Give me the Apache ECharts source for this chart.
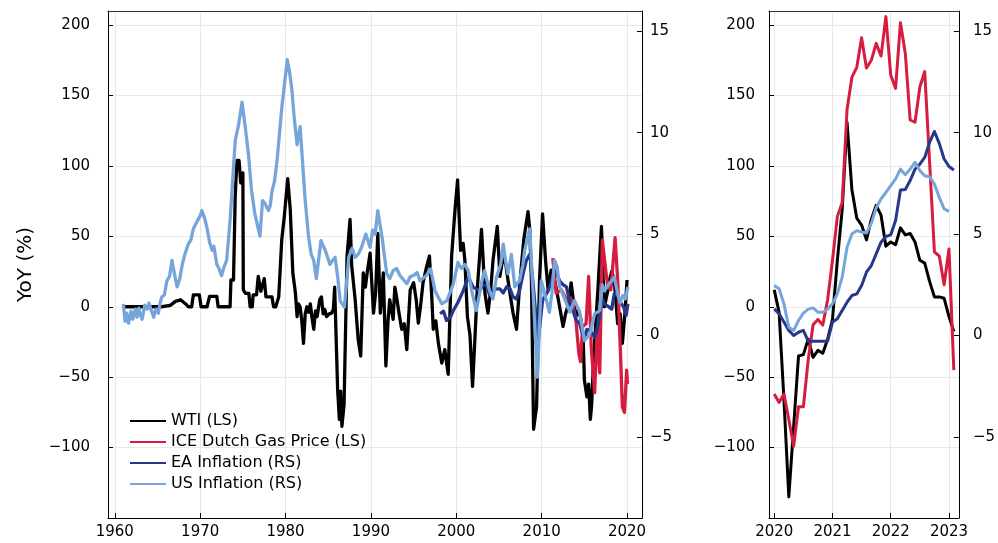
<!DOCTYPE html>
<html>
<head>
<meta charset="utf-8">
<script src="https://cdn.jsdelivr.net/npm/echarts@6/dist/echarts.min.js"></script>
<style>
html,body{margin:0;padding:0;background:#fff;}
#chart{width:998px;height:543px;}
</style>
</head>
<body>
<div id="chart"></div>
<script>
// ---------- DATA ----------
const seriesNames = ['WTI (LS)', 'ICE Dutch Gas Price (LS)', 'EA Inflation (RS)', 'US Inflation (RS)'];

// Left panel (long history), x = decimal year
const wtiYears = [1961.0,1965.5,1966.5,1967.1,1967.7,1968.3,1968.6,1969.0,1969.2,1969.9,1970.1,1970.8,1971.1,1971.95,1972.1,1973.5,1973.6,1973.9,1974.1,1974.3,1974.55,1974.75,1975.0,1975.05,1975.3,1975.7,1975.85,1976.1,1976.2,1976.6,1976.8,1977.1,1977.5,1977.7,1978.4,1978.6,1978.85,1979.2,1979.55,1979.85,1980.25,1980.55,1980.85,1981.15,1981.35,1981.5,1981.7,1981.9,1982.1,1982.3,1982.5,1982.7,1982.9,1983.1,1983.3,1983.5,1983.7,1984.0,1984.2,1984.4,1984.6,1984.8,1985.1,1985.4,1985.6,1985.75,1986.1,1986.3,1986.45,1986.6,1986.85,1987.2,1987.55,1987.75,1988.15,1988.5,1988.8,1989.1,1989.35,1989.6,1989.9,1990.3,1990.55,1990.8,1991.1,1991.45,1991.75,1992.0,1992.2,1992.6,1992.8,1993.0,1993.3,1993.6,1993.9,1994.2,1994.6,1995.0,1995.3,1995.55,1995.8,1996.1,1996.5,1996.85,1997.1,1997.3,1997.6,1997.9,1998.3,1998.65,1999.05,1999.45,1999.85,2000.15,2000.5,2000.8,2001.0,2001.3,2001.6,2001.9,2002.2,2002.45,2002.95,2003.35,2003.7,2004.0,2004.3,2004.8,2005.1,2005.5,2005.8,2006.05,2006.4,2006.65,2007.05,2007.4,2007.9,2008.4,2008.6,2008.8,2009.05,2009.2,2009.4,2009.75,2010.1,2010.45,2010.75,2011.1,2011.5,2011.8,2012.1,2012.5,2012.8,2013.05,2013.45,2013.7,2014.0,2014.3,2014.6,2014.85,2015.0,2015.3,2015.5,2015.7,2015.85,2016.05,2016.3,2016.6,2017.0,2017.2,2017.35,2017.7,2017.95,2018.2,2018.5,2018.9,2019.2,2019.45,2019.75,2020.0];
const wtiValues = [0,0,1,3.8,5,2,0,0,8.5,8.5,0,0,7.3,7.3,0,0,19,19,78,104,104,88,95,12,9.5,9.5,0,0,8.5,8.5,21.5,11,20,7,7,0,0,7,47.5,64,91,69,24,10,-7,2,0,-10,-26,-5,0,-4,2,-8,-16,-3,-7,5,7,-5,-2,-7,-5,-4.5,-2,14,-59,-80,-60,-85,-69.5,35.7,62,29,5,-23,-35,24,14,26,38,-4.5,10,52,-4.5,24,-42,-10,5,-9,14,7,-5,-16,-12,-30.5,12,17,5,-11.6,0,17,28,36,10,-16,-10,-26,-40,-30.5,-48,36,69,90,40,45,33,-7,-20,-56.5,-20,12,55,9.7,-4.5,10,33,57,21.5,36,30,19,5,-4.5,-16,14,47.5,67.6,55,19,-87,-80,-71,19,66,33,12,26,19,10,0,-14,-5,0,17,5,-7,-2,-9,-20,-52,-64,-55,-80,-70,-42,-15,14,57,20,0,10,19,25,19,-12,-5,-26,-4.5,19];

const iceYears = [2011.3,2011.7,2012.3,2012.9,2013.5,2014.0,2014.35,2014.55,2014.8,2015.2,2015.5,2015.8,2016.2,2016.5,2016.8,2017.1,2017.5,2017.75,2018.1,2018.6,2018.9,2019.2,2019.45,2019.7,2019.95,2020.05];
const iceValues = [34.5,9.7,12,5,5,-9,-33,-39,-14,-12,21.5,-28,-61,-16,-47,47.5,26,14,12,49,19,-28,-71,-75,-45,-55];

const eaYears = [1998.1,1998.5,1998.85,1999.3,1999.65,2000.2,2000.8,2001.4,2001.95,2002.3,2002.75,2003.1,2003.5,2003.9,2004.3,2004.7,2005.1,2005.5,2005.9,2006.3,2006.65,2007.0,2007.4,2007.8,2008.2,2008.6,2008.9,2009.2,2009.6,2010.1,2010.75,2011.1,2011.5,2011.8,2012.1,2012.5,2012.9,2013.3,2013.65,2014.0,2014.45,2015.0,2015.3,2015.6,2015.9,2016.2,2016.5,2016.8,2017.1,2017.35,2017.9,2018.2,2018.5,2018.8,2019.1,2019.6,2019.9,2020.1];
const eaValues = [1.07,1.2,0.74,0.9,1.23,1.64,2.2,2.87,2.4,2.3,2.2,2.5,2.46,2.0,2.2,2.3,2.3,2.1,2.4,2.3,1.9,1.8,2.2,3.0,3.7,4.0,3.0,1.56,-0.25,1.72,2.2,2.6,3.2,3.0,2.7,2.5,2.4,1.6,1.23,0.8,0.58,-0.25,0.3,0.25,0.1,-0.08,0.3,1.07,1.8,1.56,1.4,1.3,2.05,2.1,1.72,1.4,1.0,1.56];

const usYears = [1961.0,1961.2,1961.4,1961.6,1961.9,1962.1,1962.4,1962.6,1962.8,1963.0,1963.2,1963.5,1963.8,1964.0,1964.3,1964.55,1964.8,1965.1,1965.3,1965.5,1965.8,1966.1,1966.4,1966.7,1967.0,1967.3,1967.6,1967.9,1968.2,1968.6,1968.9,1969.2,1969.6,1970.0,1970.2,1970.5,1970.8,1971.1,1971.4,1971.6,1971.95,1972.2,1972.5,1972.8,1973.1,1973.5,1974.1,1974.5,1974.9,1975.3,1975.65,1976.0,1976.4,1977.0,1977.3,1977.6,1978.0,1978.2,1978.4,1978.7,1979.0,1979.55,1980.2,1980.5,1980.75,1981.0,1981.35,1981.7,1981.9,1982.3,1982.7,1983.0,1983.3,1983.6,1984.15,1984.65,1985.2,1985.5,1985.8,1986.1,1986.4,1986.9,1987.4,1987.8,1988.15,1988.5,1988.9,1989.4,1989.9,1990.2,1990.5,1990.8,1991.3,1991.85,1992.2,1992.6,1993.0,1993.4,1994.2,1994.6,1995.0,1995.4,1995.75,1996.5,1997.0,1997.5,1998.3,1998.9,1999.65,2000.2,2000.6,2001.0,2001.4,2001.8,2002.35,2002.95,2003.3,2003.9,2004.3,2004.7,2005.2,2005.5,2005.8,2006.05,2006.45,2006.85,2007.4,2007.8,2008.0,2008.6,2009.0,2009.5,2009.95,2010.45,2010.9,2011.2,2011.5,2011.8,2012.1,2012.7,2013.3,2013.85,2014.45,2015.0,2015.3,2015.6,2016.2,2016.8,2017.1,2017.35,2017.9,2018.5,2018.9,2019.2,2019.5,2019.8,2020.1];
const usValues = [1.56,0.7,1.1,0.6,1.2,0.8,1.3,0.9,1.35,1.0,0.8,1.5,1.3,1.6,1.2,0.9,1.3,1.1,1.6,1.9,2.0,2.7,2.9,3.7,3.0,2.4,2.8,3.5,4.0,4.5,4.7,5.26,5.6,5.9,6.16,5.8,5.3,4.6,4.2,4.4,3.5,3.3,2.95,3.4,3.7,5.66,9.6,10.4,11.5,10.2,8.95,7.2,6.0,4.9,6.65,6.5,6.16,6.4,7.1,7.6,8.6,11.2,13.6,12.9,12.07,10.8,9.4,10.3,9.1,6.65,4.84,4.0,3.7,2.8,4.68,4.2,3.5,3.7,3.86,2.9,1.7,1.4,3.86,4.3,3.86,4.0,4.35,5.0,4.35,5.2,5.0,6.16,4.84,3.04,2.8,3.2,3.3,2.96,2.55,2.9,2.96,3.1,2.7,2.96,3.28,2.2,1.56,1.72,2.55,3.6,3.3,3.5,3.2,2.2,1.23,2.6,3.2,2.2,1.8,2.87,3.5,4.5,3.6,3.04,4.0,2.4,2.7,3.5,4.2,5.26,2.05,-2.05,2.7,1.9,1.15,2.1,3.7,3.4,2.4,1.8,1.15,1.72,1.15,-0.25,-0.1,0,1.07,1.23,2.5,2.2,2.55,2.87,2.05,1.6,1.97,1.8,2.4];

// Right panel (monthly, Jan 2020 onwards)
const recentMonths = ['2020-01','2020-02','2020-03','2020-04','2020-05','2020-06','2020-07','2020-08','2020-09','2020-10','2020-11','2020-12','2021-01','2021-02','2021-03','2021-04','2021-05','2021-06','2021-07','2021-08','2021-09','2021-10','2021-11','2021-12','2022-01','2022-02','2022-03','2022-04','2022-05','2022-06','2022-07','2022-08','2022-09','2022-10','2022-11','2022-12','2023-01','2023-02'];
const wtiRecent = [12,-4,-66,-135,-85,-35,-34,-23,-36,-31,-33,-23,-9,33,69,131,83,63,58,47.5,62,72,65,43,46,44,56,51,52,46,33,31,18,7,7,6,-7,-17.5];
const iceRecent = [-62,-68,-62,-80,-99,-71,-71,-37.6,-12.8,-9,-13,5,33,64,74,140,163,170,191,169.5,175,187,178,206,164.5,155,201.6,180,132.6,131,156,167,103,39,36,15.6,41,-45];
const eaRecent = [1.31,1.07,0.66,0.25,0.0,0.16,0.25,-0.28,-0.28,-0.28,-0.28,-0.28,0.66,0.82,1.23,1.64,1.97,2.05,2.46,3.12,3.45,4.02,4.6,4.88,4.96,5.67,7.17,7.2,7.64,8.2,8.45,8.78,9.52,10.06,9.47,8.7,8.33,8.16];
const usRecent = [2.46,2.3,1.56,0.41,0.25,0.74,1.1,1.3,1.36,1.15,1.15,1.3,1.56,2.05,2.87,4.35,5.0,5.17,5.1,5.05,5.53,6.3,6.73,7.05,7.39,7.72,8.2,7.93,8.2,8.54,8.13,7.88,7.83,7.47,6.81,6.24,6.12];

// Tick labels
const leftYearTicks = [1960,1970,1980,1990,2000,2010,2020];
const rightYearTicks = [2020,2021,2022,2023];
const lsTicks = [-100,-50,0,50,100,150,200];
const rsTicks = [-5,0,5,10,15];

// ---------- BUILD ----------
const pairs = (xs, ys) => xs.map((x, i) => [x, ys[i]]);
const monthToYear = m => { const [y, mo] = m.split('-').map(Number); return y + (mo - 1) / 12; };
const monthly = ys => ys.map((v, i) => [monthToYear(recentMonths[i]), v]);

const colors = ['#000000', '#d61c3f', '#27388c', '#76a5da'];
const FONT = 'DejaVu Sans';
const minus = v => String(v).replace('-', '\u2212');

function xAxisDef(grid, min, max, ticks) {
  return {
    gridIndex: grid, type: 'value', min: min, max: max,
    axisLine: { onZero: false, lineStyle: { color: '#000', width: 1 } },
    axisTick: { inside: true, length: 5, customValues: ticks, lineStyle: { color: '#000' } },
    axisLabel: { customValues: ticks, formatter: v => String(v), fontSize: 15, color: '#000', fontFamily: FONT, margin: 7 },
    splitLine: { show: true, lineStyle: { color: '#e8e8e8', width: 1 } }
  };
}
function topAxisDef(grid, min, max) {
  return {
    gridIndex: grid, type: 'value', position: 'top', min: min, max: max,
    axisLine: { show: true, onZero: false, lineStyle: { color: '#333', width: 1 } },
    axisTick: { show: false }, axisLabel: { show: false }, splitLine: { show: false }
  };
}
function yAxisDef(grid, pos, min, max, ticks, split, margin, extra) {
  return Object.assign({
    gridIndex: grid, type: 'value', position: pos, min: min, max: max,
    axisLine: { show: true, onZero: false, lineStyle: { color: '#000', width: 1 } },
    axisTick: { show: true, inside: true, length: 5, customValues: ticks, lineStyle: { color: '#000' } },
    axisLabel: { customValues: ticks, formatter: minus, fontSize: 15, color: '#000', fontFamily: FONT, margin: margin },
    splitLine: { show: split, lineStyle: { color: '#e8e8e8', width: 1 } }
  }, extra || {});
}

const lineSeries = (name, data, xi, yi, ci, z, w) => ({
  name: name, type: 'line', data: data, xAxisIndex: xi, yAxisIndex: yi,
  showSymbol: false, symbol: 'none', animation: false, z: z,
  lineStyle: { color: colors[ci], width: w, join: 'round' },
  itemStyle: { color: colors[ci] }
});

const option = {
  animation: false,
  backgroundColor: '#fff',
  textStyle: { fontFamily: FONT },
  grid: [
    { left: 108, right: 356, top: 11, bottom: 25 },
    { left: 769, right: 39, top: 11, bottom: 25 }
  ],
  xAxis: [
    xAxisDef(0, 1959.2, 2021.75, leftYearTicks),
    xAxisDef(1, 2019.91, 2023.17, rightYearTicks),
    topAxisDef(0, 1959.2, 2021.75),
    topAxisDef(1, 2019.91, 2023.17)
  ],
  yAxis: [
    yAxisDef(0, 'left', -150, 210, lsTicks, true, 18, {
      name: 'YoY (%)', nameLocation: 'middle', nameGap: 72, nameRotate: 90,
      nameTextStyle: { fontSize: 20, color: '#000', fontFamily: FONT }
    }),
    yAxisDef(0, 'right', -9, 16, rsTicks, false, 8),
    yAxisDef(1, 'left', -150, 210, lsTicks, true, 14),
    yAxisDef(1, 'right', -9, 16, rsTicks, false, 14)
  ],
  legend: {
    orient: 'vertical', left: 130, top: 413, padding: 0,
    itemWidth: 36, itemHeight: 14, itemGap: 5,
    icon: 'path://M0,0H36V2H0Z',
    textStyle: { fontSize: 16, color: '#000', fontFamily: FONT },
    data: seriesNames
  },
  series: [
    lineSeries(seriesNames[0], pairs(wtiYears, wtiValues), 0, 0, 0, 2, 3.3),
    lineSeries(seriesNames[1], pairs(iceYears, iceValues), 0, 0, 1, 3, 3.3),
    lineSeries(seriesNames[2], pairs(eaYears, eaValues), 0, 1, 2, 4, 3.3),
    lineSeries(seriesNames[3], pairs(usYears, usValues), 0, 1, 3, 5, 3.3),
    lineSeries(seriesNames[0], monthly(wtiRecent), 1, 2, 0, 2, 3),
    lineSeries(seriesNames[1], monthly(iceRecent), 1, 2, 1, 3, 3),
    lineSeries(seriesNames[2], monthly(eaRecent), 1, 3, 2, 4, 3),
    lineSeries(seriesNames[3], monthly(usRecent), 1, 3, 3, 5, 3)
  ]
};

const chart = echarts.init(document.getElementById('chart'), null, { renderer: 'canvas' });
chart.setOption(option);
</script>
</body>
</html>
